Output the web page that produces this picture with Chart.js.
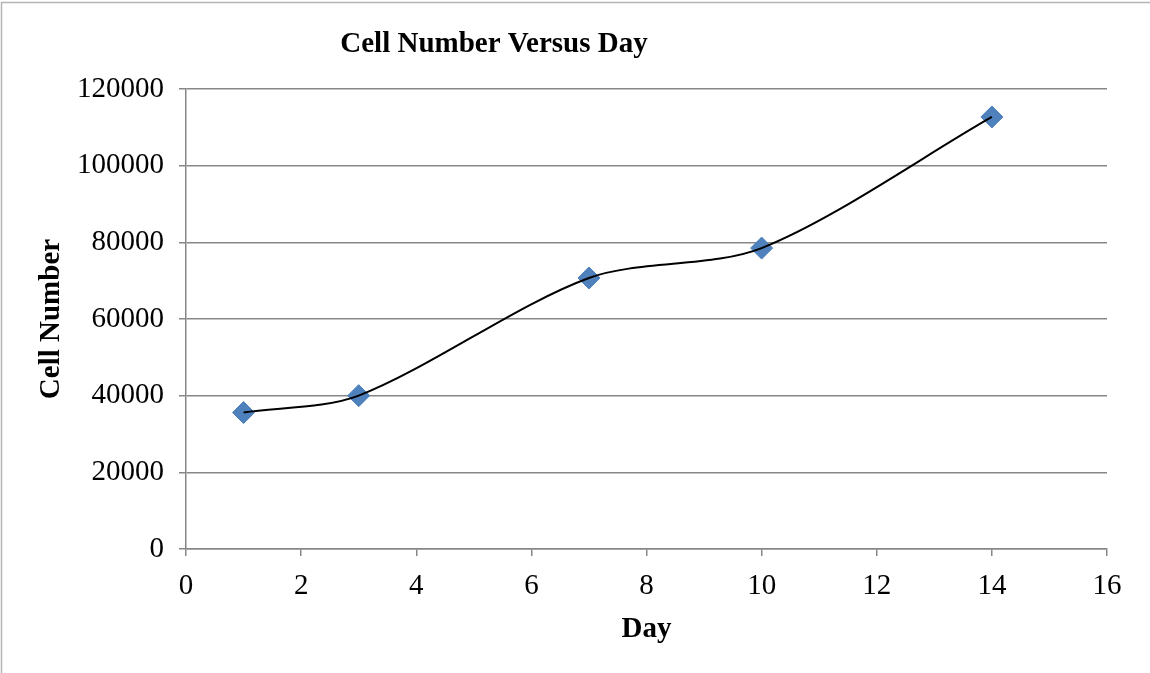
<!DOCTYPE html>
<html>

<head>
    <meta charset="utf-8">
    <title>Cell Number Versus Day</title>
    <script src="https://cdn.jsdelivr.net/npm/chart.js@4/dist/chart.umd.min.js"></script>
    <style>
        body { margin: 0; background: #fff; }
        canvas { display: block; }
    </style>
</head>

<body>
    <canvas id="cellchart" width="1150" height="673"></canvas>
</body>

<script>
    // days and cell counts
    var days = [1, 3, 7, 10, 14];
    var cellCounts = [35600, 40000, 70700, 78500, 112700];
    var chartTitle = "Cell Number Versus Day";
    var xTitle = "Day";
    var yTitle = "Cell Number";

    var serif = "'Liberation Serif', 'Times New Roman', serif";
    var gridGray = "#878787";

    var points = days.map((d, i) => ({ x: d, y: cellCounts[i] }));

    // white page, light frame on top/left, title placed like the original
    const framePlugin = {
        id: 'frame',
        beforeDraw(chart) {
            const ctx = chart.ctx;
            ctx.save();
            ctx.fillStyle = '#fff';
            ctx.fillRect(0, 0, chart.width, chart.height);
            ctx.strokeStyle = '#b4b4b4';
            ctx.lineWidth = 1.5;
            ctx.beginPath();
            ctx.moveTo(1.5, chart.height);
            ctx.lineTo(1.5, 2.5);
            ctx.lineTo(chart.width, 2.5);
            ctx.stroke();
            ctx.restore();
        },
        afterDraw(chart) {
            const ctx = chart.ctx;
            const area = chart.chartArea;
            ctx.save();
            ctx.font = "bold 29px " + serif;
            ctx.fillStyle = '#000';
            ctx.textAlign = 'center';
            ctx.textBaseline = 'alphabetic';
            ctx.fillText(chartTitle, area.left + 308, 52);
            ctx.restore();
        }
    };

    var ctx = document.getElementById('cellchart').getContext('2d');
    var cellChart = new Chart(ctx, {
        type: 'scatter',
        plugins: [framePlugin],
        data: {
            datasets: [{
                label: "Trend",
                type: 'line',
                data: points,
                borderColor: "#000",
                borderWidth: 2,
                tension: 0.3,
                pointRadius: 0,
                fill: false
            }, {
                label: "Cell Number",
                data: points,
                pointStyle: 'rectRot',
                pointRadius: 11,
                pointBorderWidth: 1,
                backgroundColor: "#4f81bd",
                borderColor: "#4a7ebb"
            }]
        },
        options: {
            responsive: false,
            animation: false,
            layout: {
                padding: { left: 0, right: 43, top: 89, bottom: 0 }
            },
            plugins: {
                legend: { display: false },
                tooltip: { enabled: false },
                title: { display: false }
            },
            scales: {
                x: {
                    type: 'linear',
                    min: 0,
                    max: 16,
                    afterFit: (scale) => { scale.height = 124; },
                    ticks: {
                        stepSize: 2,
                        padding: 13,
                        color: '#000',
                        font: { family: serif, size: 29 }
                    },
                    grid: {
                        drawOnChartArea: false,
                        tickLength: 7,
                        color: gridGray,
                        lineWidth: 1.5
                    },
                    border: { color: gridGray, width: 1.5 },
                    title: {
                        display: true,
                        text: xTitle,
                        color: '#000',
                        font: { family: serif, size: 29, weight: 'bold' },
                        padding: { top: 0, bottom: 26 }
                    }
                },
                y: {
                    min: 0,
                    max: 120000,
                    afterFit: (scale) => { scale.width = 186; },
                    ticks: {
                        stepSize: 20000,
                        padding: 15,
                        color: '#000',
                        font: { family: serif, size: 29 },
                        callback: (v) => String(v)
                    },
                    grid: {
                        tickLength: 7,
                        color: gridGray,
                        lineWidth: 1.5
                    },
                    border: { color: gridGray, width: 1.5 },
                    title: {
                        display: true,
                        text: yTitle,
                        color: '#000',
                        font: { family: serif, size: 29, weight: 'bold' },
                        padding: { top: 34, bottom: 0 }
                    }
                }
            }
        }
    });
</script>

</html>
